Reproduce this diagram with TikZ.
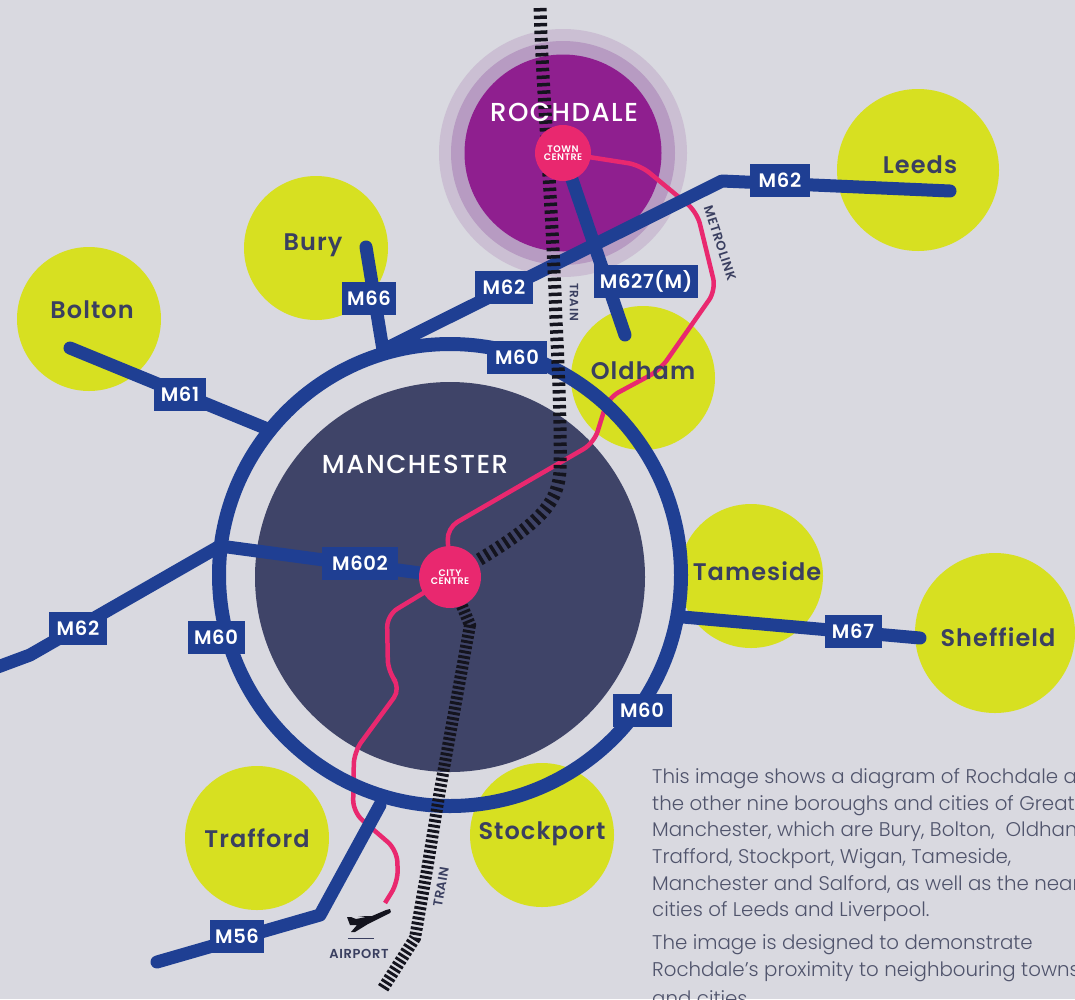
\documentclass[tikz,border=0pt]{standalone}
\usepackage{fontspec}
\setmainfont{Poppins}
\newfontfamily\bodyfont{Poppins Light}
\newfontfamily\medfont[LetterSpace=6]{Poppins Medium}
\newfontfamily\placefont[LetterSpace=4.5]{Poppins SemiBold}
\newfontfamily\roadfont[LetterSpace=3.5]{Poppins SemiBold}
\newfontfamily\smallfont[LetterSpace=5]{Poppins SemiBold}
\usetikzlibrary{calc}
\pgfdeclarelayer{base}
\pgfdeclarelayer{under}
\pgfdeclarelayer{top}
\pgfsetlayers{base,under,main,top}
\definecolor{bgc}{HTML}{D9D9E0}
\definecolor{yel}{HTML}{D7E021}
\definecolor{man}{HTML}{3F4468}
\definecolor{road}{HTML}{1F3F93}
\definecolor{purp}{HTML}{8F1F8F}
\definecolor{ringa}{HTML}{B79BC2}
\definecolor{ringb}{HTML}{CBBFD3}
\definecolor{pinkc}{HTML}{E9286F}
\definecolor{navy}{HTML}{3A3F60}
\definecolor{bodyc}{HTML}{50546C}
\definecolor{track}{HTML}{14141E}
\newcommand{\fs}[1]{\fontsize{#1}{#1}\selectfont}
\tikzset{
  x=1pt,y=-1pt,
  disc/.style={circle,inner sep=0pt,minimum size=#1,fill=yel},
  roadline/.style={draw=road,line width=13pt,line join=round},
  roadlabel/.style={fill=road,text=white,font=\roadfont\fs{19.5},inner sep=0pt,minimum height=33pt},
  placename/.style={text=navy,font=\placefont\fs{24},inner sep=0pt},
  bigname/.style={text=white,font=\medfont\fs{26},inner sep=0pt},
  centrenode/.style={fill=pinkc,text=white,align=center,font=\smallfont\fs{9.5}},
  metro/.style={draw=pinkc,line width=4.5pt,rounded corners=12pt},
  trainupper/.style={draw=track,line width=13pt,dash pattern=on 3.5pt off 4pt},
  trainlower/.style={draw=track,line width=12pt,dash pattern=on 2.9pt off 2.3pt},
  small/.style={text=navy,font=\smallfont\fs{13},inner sep=0pt},
  body/.style={text=bodyc,font=\bodyfont\fs{19.8},anchor=west,inner sep=0pt},
}
\begin{document}
\begin{tikzpicture}
\useasboundingbox (0,0) rectangle (1075,999);
\begin{pgfonlayer}{base}
\fill[bgc] (0,0) rectangle (1075,999);
\node[disc=248pt,fill=ringb] (rochc) at (563,153) {};
\node[disc=224pt,fill=ringa] (rochb) at (563,153) {};
\node[disc=197pt,fill=purp] (rocha) at (563,153) {};
\node[disc=144pt] (bolton) at (89,319) {};
\node[disc=144pt] (bury) at (316,248) {};
\node[disc=162pt] (leeds) at (918,170) {};
\node[disc=144pt] (oldham) at (643,378) {};
\node[disc=144pt] (tameside) at (751,576) {};
\node[disc=160pt] (sheffield) at (995,633) {};
\node[disc=144pt] (trafford) at (257,838) {};
\node[disc=144pt] (stockport) at (542,835) {};
\node[disc=390pt,fill=man] (manchester) at (450,577) {};
\end{pgfonlayer}
% Centres on the top layer
\begin{pgfonlayer}{top}
\node[disc=56pt,centrenode] (town) at (563,153) {TOWN\\[-1pt]CENTRE};
\node[disc=62pt,centrenode] (city) at (450,577) {CITY\\[-1pt]CENTRE};
\end{pgfonlayer}
% Coordinates
\coordinate (ringNW) at (383,350);
\coordinate (bend) at (722,181);
\coordinate (leedsend) at (950,191);
\coordinate (buryend) at (366,247);
\coordinate (boltonend) at (70,348);
\coordinate (ringW) at (270,430);
\coordinate (ringM602) at (220,546);
\coordinate (westa) at (30,655);
\coordinate (westb) at (-5,668);
\coordinate (ringE) at (683,617);
\coordinate (sheffend) at (920,638);
\coordinate (ringS) at (380,805);
\coordinate (bendS) at (320,915);
\coordinate (m56end) at (157,962);
\coordinate (oldhamend) at (625,335);
% Metrolink under the roads
\coordinate (m1) at (640,165);
\coordinate (m2) at (697,212);
\coordinate (m3) at (716,290);
\coordinate (m4) at (660,370);
\coordinate (m5) at (608,398);
\coordinate (m6) at (594,443);
\coordinate (m7) at (447,528);
\begin{pgfonlayer}{under}
\draw[metro] (town.center) -- (m1) -- (m2) -- (m3) -- (m4) -- (m5) -- (m6) -- (m7) -- (city.center);
\draw[metro] (city.center) -- (387,615) -- (388,672) -- (401,688) -- (354,752) -- (353,812) -- (397,850) -- (398,882) -- (385,903);
\end{pgfonlayer}
% Ring
\node[circle,draw=road,line width=14pt,minimum size=462pt,inner sep=0pt] (ring) at (450,575) {};
% Roads
\draw[roadline,line cap=round] (ringNW) -- (bend) -- (leedsend);
\draw[roadline,line cap=round] (town.center) -- (oldhamend);
\draw[roadline,line cap=round] (buryend) -- (ringNW);
\draw[roadline,line cap=round] (boltonend) -- (ringW);
\draw[roadline] (ringM602) -- (city.center);
\draw[roadline] (westb) -- (westa) -- (ringM602);
\draw[roadline,line cap=round] (ringE) -- (sheffend);
\draw[roadline,line cap=round] (ringS) -- (bendS) -- (m56end);
% Labels
\node[roadlabel,minimum width=54pt] (l66) at (369,298) {M66};
\node[roadlabel,minimum width=52pt] (l61) at (180,394) {M61};
\node[roadlabel,minimum width=60pt] (l60a) at (517,357) {M60};
\node[roadlabel,minimum width=76pt] (l602) at (360,563) {M602};
\node[roadlabel,minimum width=58pt] (l62w) at (78,628) {M62};
\node[roadlabel,minimum width=57pt] (l60b) at (216,637) {M60};
\node[roadlabel,minimum width=59pt] (l60c) at (642,710) {M60};
\node[roadlabel,minimum width=57pt] (l67) at (853,631) {M67};
\node[roadlabel,minimum width=54pt] (l56) at (237,936) {M56};
\node[roadlabel,minimum width=104pt] (l627) at (646,281) {M627(M)};
\node[roadlabel,minimum width=58pt] (l62a) at (504,287) {M62};
\node[roadlabel,minimum width=60pt] (l62e) at (780,180) {M62};
% Train
\draw[trainupper] (540,8) .. controls (543,100) and (552,200) .. (556,320) .. controls (559,380) and (561,440) .. (560,470) .. controls (558,510) and (530,530) .. (city.center);
\draw[trainlower] (city.center) -- (470,625) -- (440,790) -- (427,870) -- (415,938) -- (382,990);
% Names
\node[bigname] (nroch) at (564,112) {ROCHDALE};
\node[bigname] (nman) at (415,464) {MANCHESTER};
\node[placename] (nbolton) at (92,310) {Bolton};
\node[placename] (nbury) at (313,245) {Bury};
\node[placename] (nleeds) at (920,165) {Leeds};
\node[placename] (noldham) at (643,371) {Oldham};
\node[placename] (ntame) at (757,571) {Tameside};
\node[placename] (nsheff) at (998,637) {Sheffield};
\node[placename] (ntraf) at (257,838) {Trafford};
\node[placename] (nstock) at (542,834) {Stockport};
% Rail and tram labels
\node[small,rotate=-90,font=\smallfont\fs{12}] (ltrain) at (574,302) {TRAIN};
\node[small,rotate=80] (ltrainb) at (441,887) {TRAIN};
\node[small,rotate=-72] (lmetro) at (720,243) {METROLINK};
\node[small] (lair) at (359,954) {AIRPORT};
% Plane
\fill[track] (390,909) .. controls (392,911) and (391,913) .. (388,914) -- (368,924) -- (355,932) -- (351,932) -- (357,925) -- (350,925) -- (347,917) -- (351,917) -- (356,919) -- (366,917) -- (358,916) -- (372,916) -- (386,910) -- cycle;
\coordinate (pa) at (348,938); \coordinate (pb) at (374,938);
\draw[navy,line width=1pt] (pa) -- (pb);
% Body text
\node[body] (t1) at (652,779) {This image shows a diagram of Rochdale and};
\node[body] (t2) at (652,806) {the other nine boroughs and cities of Greater};
\node[body] (t3) at (652,832) {Manchester, which are Bury, Bolton,\ \ Oldham,};
\node[body] (t4) at (652,859) {Trafford, Stockport, Wigan, Tameside,};
\node[body] (t5) at (652,886) {Manchester and Salford, as well as the nearby};
\node[body] (t6) at (652,912) {cities of Leeds and Liverpool.};
\node[body] (t7) at (652,945) {The image is designed to demonstrate};
\node[body] (t8) at (652,972) {Rochdale’s proximity to neighbouring towns};
\node[body] (t9) at (652,998) {and cities.};
\end{tikzpicture}
\end{document}
